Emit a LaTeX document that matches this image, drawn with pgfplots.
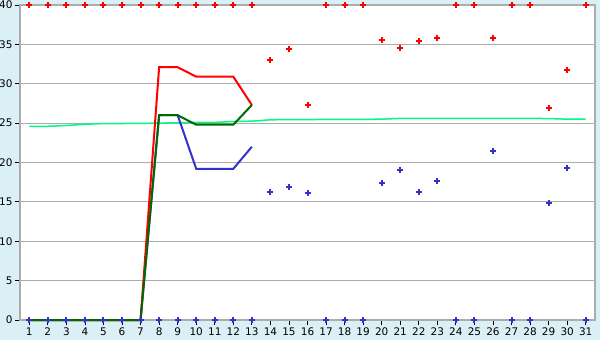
\documentclass[border=0pt]{standalone}
\usepackage{pgfplots}
\pgfplotsset{compat=1.18}
\usepackage{pgfplotstable}
\usepackage{fontspec}
\setmainfont{DejaVu Sans}
\definecolor{bgblue}{RGB}{218,239,246}
\definecolor{lred}{RGB}{255,0,0}
\definecolor{lblue}{RGB}{51,51,204}
\definecolor{dgreen}{RGB}{0,105,0}
\definecolor{sgreen}{RGB}{0,250,130}
\definecolor{gridgray}{RGB}{172,172,172}

\pgfplotstableread{
day maxv minv
1 40 0
2 40 0
3 40 0
4 40 0
5 40 0
6 40 0
7 40 0
8 40 0
9 40 0
10 40 0
11 40 0
12 40 0
13 40 0
14 33.0 16.3
15 34.4 16.85
16 27.3 16.1
17 40 0
18 40 0
19 40 0
20 35.5 17.35
21 34.5 19.0
22 35.4 16.2
23 35.8 17.6
24 40 0
25 40 0
26 35.8 21.4
27 40 0
28 40 0
29 26.9 14.8
30 31.8 19.3
31 40 0
}\points

\pgfplotstableread{
day redl greenl bluel
1 0 0 0
2 0 0 0
3 0 0 0
4 0 0 0
5 0 0 0
6 0 0 0
7 0 0 0
8 32.1 26.0 26.0
9 32.1 26.0 26.0
10 30.9 24.8 19.2
11 30.9 24.8 19.2
12 30.9 24.8 19.2
13 27.3 27.3 22.0
}\lines

\pgfplotstableread{
day avg
1 24.6
2 24.6
3 24.7
4 24.85
5 24.95
6 24.95
7 24.97
8 25.0
9 25.05
10 25.1
11 25.1
12 25.2
13 25.25
14 25.42
15 25.45
16 25.45
17 25.47
18 25.47
19 25.48
20 25.5
21 25.6
22 25.6
23 25.6
24 25.6
25 25.6
26 25.6
27 25.6
28 25.6
29 25.58
30 25.5
31 25.5
}\avg

\begin{document}
\begin{tikzpicture}[x=1bp,y=1bp]
\fill[bgblue] (0,0) rectangle (600,340);
\path[use as bounding box] (0,0) rectangle (600,340);
\begin{axis}[
  at={(20bp,20bp)}, anchor=south west,
  scale only axis, width=575bp, height=315bp,
  xmin=0.5, xmax=31.5, ymin=0, ymax=40,
  xtick={1,...,31}, ytick={0,5,...,40},
  xtick pos=bottom, ytick pos=left,
  tick align=outside, major tick length=5bp,
  tick style={black, line width=0.8bp},
  axis line style={gridgray, line width=1.2bp},
  ymajorgrids, grid style={gridgray, line width=1bp},
  axis background/.style={fill=white},
  tick label style={font=\fontsize{10.5}{12}\selectfont, text=black},
  xticklabel style={yshift=1bp},
  yticklabel style={xshift=1bp},
  /pgf/number format/assume math mode=true,
  clip=false,
]
\addplot[sgreen, line width=1.5bp, mark=none] table[x=day, y=avg] {\avg};
\addplot[lblue, line width=2bp, mark=none] table[x=day, y=bluel] {\lines};
\addplot[lred, line width=2bp, mark=none] table[x=day, y=redl] {\lines};
\addplot[dgreen, line width=2bp, mark=none] table[x=day, y=greenl] {\lines};
\addplot[only marks, mark=+, mark size=3bp, line width=2bp, color=lred] table[x=day, y=maxv] {\points};
\addplot[only marks, mark=+, mark size=3bp, line width=2bp, color=lblue] table[x=day, y=minv] {\points};
\end{axis}
\end{tikzpicture}
\end{document}
